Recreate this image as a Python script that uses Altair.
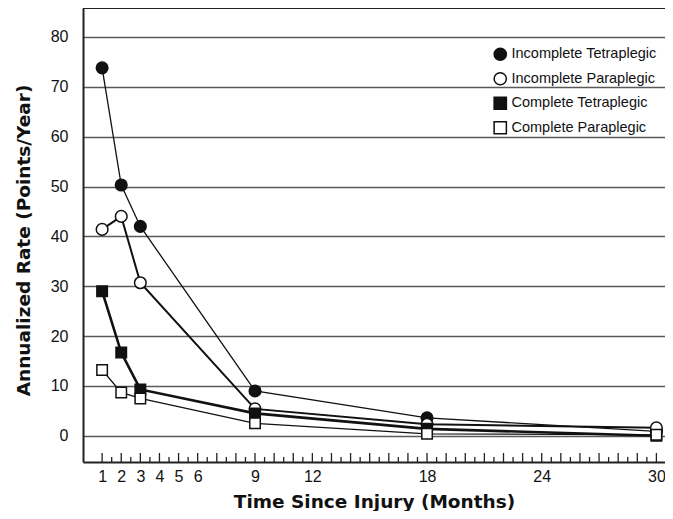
import altair as alt
import pandas as pd

# ---- data ----
months = [1, 2, 3, 9, 18, 30]
series_names = ["Incomplete Tetraplegic", "Incomplete Paraplegic",
                "Complete Tetraplegic", "Complete Paraplegic"]
incomplete_tetra = [73.8, 50.3, 42.0, 9.0, 3.6, 0.9]
incomplete_para = [41.4, 44.0, 30.7, 5.4, 2.3, 1.6]
complete_tetra = [29.0, 16.7, 9.3, 4.5, 1.4, 0.0]
complete_para = [13.2, 8.7, 7.5, 2.5, 0.4, 0.2]

line_widths = [1.3, 2.0, 2.6, 1.3]
marker_sizes = [135, 135, 110, 110]

x_tick_labels = [1, 2, 3, 4, 5, 6, 9, 12, 18, 24, 30]
y_tick_labels = [0, 10, 20, 30, 40, 50, 60, 70, 80]
minor_months = [m / 2 for m in range(2, 61)]  # 1.0 .. 30.0 every half month

# ---- layout constants ----
YMIN, YMAX = -5.25, 85.8
XMIN, XMAX = 0, 30.45
W, H = 582, 454

rows = []
for name, vals in zip(series_names, [incomplete_tetra, incomplete_para,
                                     complete_tetra, complete_para]):
    for m, v in zip(months, vals):
        rows.append({"month": m, "value": v, "series": name})
df = pd.DataFrame(rows)

ticks = pd.DataFrame({
    "month": minor_months,
    "value": [YMIN] * len(minor_months),
    "value2": [YMIN + (1.8 if float(m).is_integer() else 1.0) for m in minor_months],
})

xscale = alt.Scale(domain=[XMIN, XMAX], nice=False, zero=False)
yscale = alt.Scale(domain=[YMIN, YMAX], nice=False, zero=False)

xaxis = alt.Axis(values=x_tick_labels, ticks=False, grid=False, domain=True,
                 domainColor="#222", domainWidth=2, labelPadding=6,
                 labelFontSize=16, labelFont="Liberation Sans", labelColor="#111",
                 title="Time Since Injury (Months)", titleFont="DejaVu Sans",
                 titleFontSize=18.5, titleFontWeight="bold", titleColor="#111",
                 titleX=W / 2, titleY=39, titleBaseline="middle", titleAlign="center")
yaxis = alt.Axis(values=y_tick_labels, ticks=False, grid=True, gridColor="#5a5a5a",
                 gridWidth=1.5, domain=True, domainColor="#222", domainWidth=2,
                 labelPadding=15, labelFontSize=16, labelFont="Liberation Sans",
                 labelColor="#111",
                 title="Annualized Rate (Points/Year)", titleFont="DejaVu Sans",
                 titleFontSize=18.5, titleFontWeight="bold", titleColor="#111",
                 titleX=-60, titleY=232, titleAngle=270, titleBaseline="middle",
                 titleAlign="center")

X = alt.X("month:Q", scale=xscale, axis=xaxis)
Y = alt.Y("value:Q", scale=yscale, axis=yaxis)

legend = alt.Legend(title=None, orient="none", legendX=410, legendY=39, padding=0,
                    labelFont="Liberation Sans", labelFontSize=14.5, labelColor="#111",
                    labelLimit=300, labelOffset=4, rowPadding=5.5, symbolSize=150,
                    symbolStrokeWidth=1.5)

shape_scale = alt.Scale(domain=series_names, range=["circle", "circle", "square", "square"])
fill_scale = alt.Scale(domain=series_names, range=["#111", "white", "#111", "white"])
stroke_scale = alt.Scale(domain=series_names, range=["#111", "#111", "#111", "#111"])

base = alt.Chart(df)

line_layers = [
    base.transform_filter(alt.datum.series == name)
        .mark_line(color="#111", strokeWidth=lw)
        .encode(x=X, y=Y)
    for name, lw in zip(series_names, line_widths)
]

point_layers = [
    base.transform_filter(alt.datum.series == name)
        .mark_point(filled=False, strokeWidth=1.5, opacity=1, size=sz)
        .encode(x=X, y=Y,
                shape=alt.Shape("series:N", scale=shape_scale, legend=legend),
                fill=alt.Fill("series:N", scale=fill_scale, legend=legend),
                stroke=alt.Stroke("series:N", scale=stroke_scale, legend=legend))
    for name, sz in zip(series_names, marker_sizes)
]

tick_rules = alt.Chart(ticks).mark_rule(color="#222", strokeWidth=1.3).encode(
    x=X, y=Y, y2="value2:Q"
)

top_frame = alt.Chart(df).mark_rule(color="#222", strokeWidth=2).encode(
    y=alt.datum(YMAX)
)

chart = alt.layer(tick_rules, top_frame, *line_layers, *point_layers).properties(
    width=W, height=H,
    autosize=alt.AutoSizeParams(type="none"),
    padding={"left": 75, "top": 0, "right": 0, "bottom": 49},
).configure_view(stroke=None).configure(background="white")

chart.save("out.html", embed_options={"renderer": "svg", "actions": False})
